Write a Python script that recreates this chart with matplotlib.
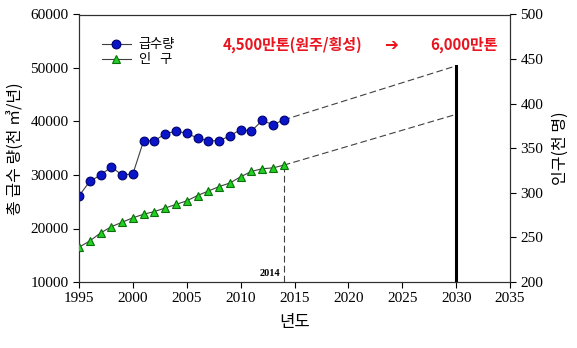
import matplotlib
matplotlib.use("Agg")
import matplotlib.pyplot as plt

years = list(range(1995, 2015))
supply = [26100, 28800, 30000, 31500, 30000, 30200, 36400, 36400, 37700, 38200,
          37800, 36900, 36400, 36400, 37300, 38500, 38200, 40200, 39400, 40300]
population = [239, 246, 255, 262, 267, 272, 276, 279, 283, 287,
              291, 297, 302, 307, 311, 318, 324, 327, 328, 331]
proj_years = [2014, 2030]
supply_proj = [40300, 50400]
pop_proj = [331, 388]
xticks = [1995, 2000, 2005, 2010, 2015, 2020, 2025, 2030, 2035]

kr = ['Noto Sans CJK KR', 'DejaVu Sans']
serif = 'Liberation Serif'

fig = plt.figure(figsize=(5.77, 3.48), dpi=100)
ax = fig.add_axes([79/577, 1-282/348, (510-79)/577, (282-14.5)/348])
ax2 = ax.twinx()

ax.plot(years, supply, '-', color='#404040', lw=0.8, marker='o', ms=6.3,
        mfc='#0a14c8', mec='#00006e', mew=0.8, label='급수량', zorder=5)
ax.plot(proj_years, supply_proj, '--', color='#404040', lw=0.8, dashes=(6, 3))
ax2.plot(years, population, '-', color='#404040', lw=0.8, marker='^', ms=6,
         mfc='#22d022', mec='#0a6e0a', mew=0.8, label='인   구', zorder=5)
ax2.plot(proj_years, pop_proj, '--', color='#404040', lw=0.8, dashes=(6, 3))

# vertical markers
ax.plot([2030, 2030], [10000, supply_proj[1]], color='black', lw=2.2)
ax2.plot([2014, 2014], [200, population[-1]], '--', color='#404040', lw=0.8, dashes=(6, 3))
ax.text(2013.7, 10800, '2014', fontfamily=serif, fontweight='bold', fontsize=7.5,
        ha='right', va='bottom')

ax.set_xlim(1995, 2035)
ax.set_ylim(10000, 60000)
ax2.set_ylim(200, 500)
ax.set_xticks(xticks)
ax.set_yticks(range(10000, 60001, 10000))
ax2.set_yticks(range(200, 501, 50))

for a in (ax, ax2):
    a.tick_params(direction='out', length=4, width=0.8, labelsize=11, colors='black')
    for lab in a.get_xticklabels() + a.get_yticklabels():
        lab.set_fontfamily(serif)
    for s in a.spines.values():
        s.set_linewidth(0.8)
        s.set_color('#303030')

ax.set_xlabel('년도', fontfamily=kr, fontsize=12, labelpad=6)
ax.set_ylabel('총 급수 량(천 ㎥/년)', fontfamily=kr, fontsize=11.5, labelpad=4)
ax2.set_ylabel('인구(천 명)', fontfamily=kr, fontsize=11.5, labelpad=6)

h1, l1 = ax.get_legend_handles_labels()
h2, l2 = ax2.get_legend_handles_labels()
ax2.legend(h1 + h2, l1 + l2, loc='upper left', bbox_to_anchor=(0.025, 0.955),
           frameon=False, prop={'family': kr, 'size': 9.5}, handlelength=2.2,
           handletextpad=0.6, labelspacing=0.15)

red = '#e8141e'
ax.text(2008.3, 54400, '4,500만톤(원주/횡성)', color=red, fontfamily=kr,
        fontweight='bold', fontsize=10.8, va='center', ha='left')
ax.text(2024.0, 54400, '➔', color=red, fontfamily=['DejaVu Sans'],
        fontweight='bold', fontsize=12, va='center', ha='center')
ax.text(2027.6, 54400, '6,000만톤', color=red, fontfamily=kr,
        fontweight='bold', fontsize=10.8, va='center', ha='left')

fig.savefig('out.png', dpi=100)
